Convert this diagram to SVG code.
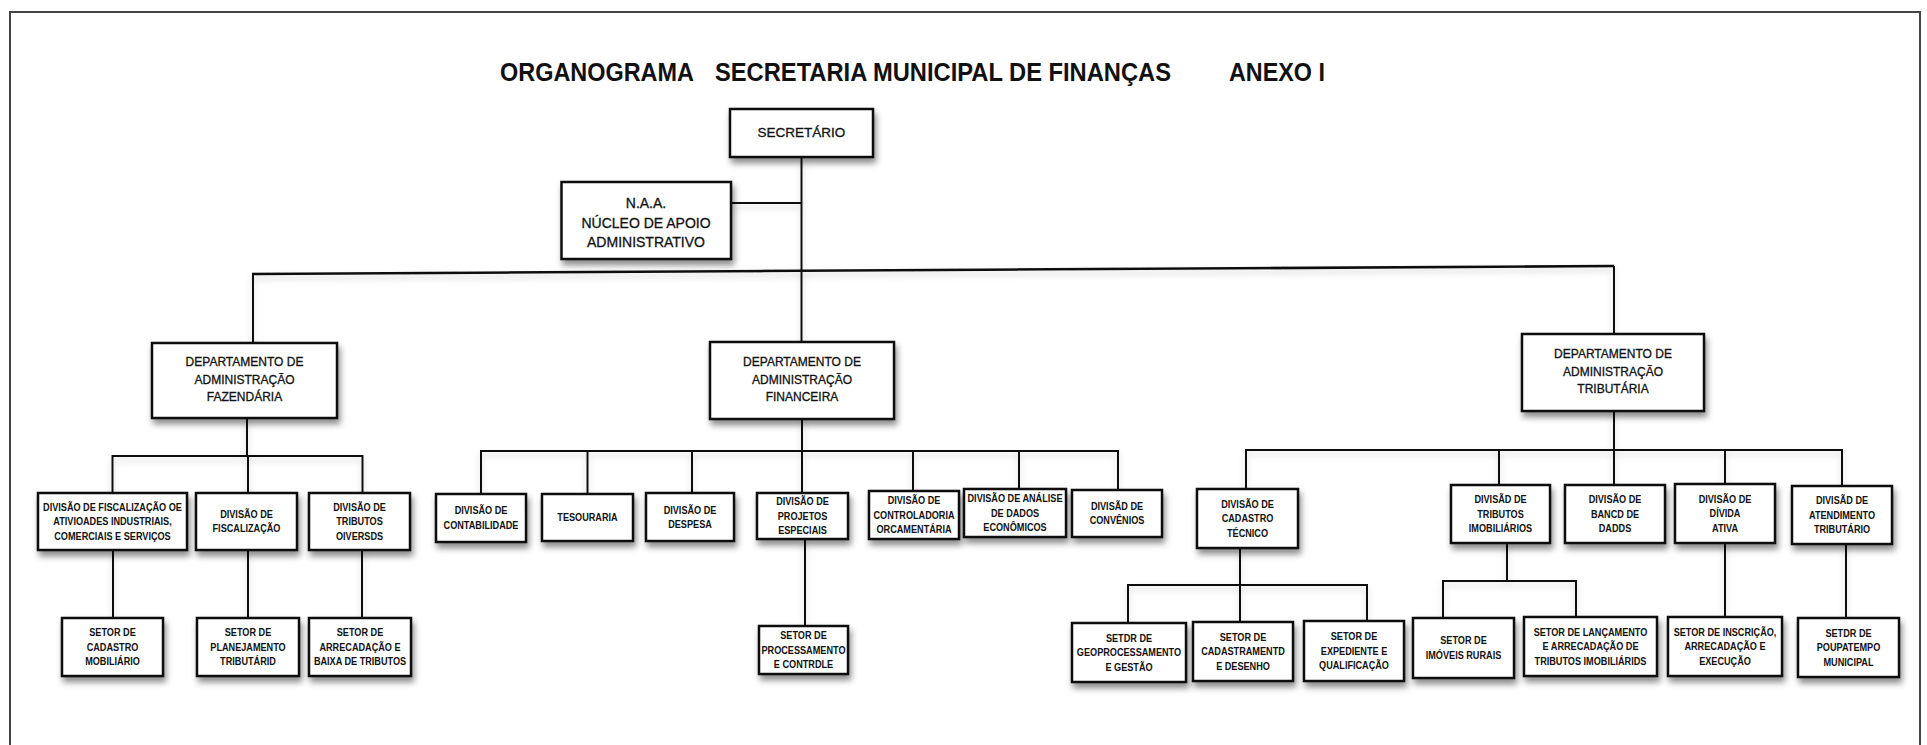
<svg xmlns="http://www.w3.org/2000/svg" width="1927" height="745" viewBox="0 0 1927 745">
<defs>
<filter id="sh" x="-15%" y="-15%" width="140%" height="160%">
<feDropShadow dx="2" dy="5" stdDeviation="3" flood-color="#000" flood-opacity="0.45"/>
</filter>
<filter id="lsh" x="-5%" y="-50%" width="110%" height="300%">
<feDropShadow dx="0" dy="4" stdDeviation="3" flood-color="#000" flood-opacity="0.18"/>
</filter>
</defs>
<style>
.box{fill:#fff;stroke:#111;stroke-width:2.5;filter:url(#sh)}
.t{font-family:"Liberation Sans",Arial,sans-serif;fill:#111;text-anchor:middle}
.d{font-size:10.5px;font-weight:bold}
.dep{font-size:12px;stroke:#111;stroke-width:0.3}
.big{font-size:14px;stroke:#111;stroke-width:0.3}
.title{font-family:"Liberation Sans",Arial,sans-serif;font-size:25px;font-weight:bold;fill:#111}
.ln{fill:none;stroke:#111;stroke-width:2}
.main{stroke-width:2.6}
</style>
<rect x="0" y="0" width="1927" height="745" fill="#fff"/>
<path d="M10 745 V12 H1920 V745" fill="none" stroke="#444" stroke-width="2"/>
<g id="title">
<text class="title" x="500" y="81" textLength="194" lengthAdjust="spacingAndGlyphs">ORGANOGRAMA</text>
<text class="title" x="715" y="81" textLength="456" lengthAdjust="spacingAndGlyphs">SECRETARIA MUNICIPAL DE FINANÇAS</text>
<text class="title" x="1229" y="81" textLength="96" lengthAdjust="spacingAndGlyphs">ANEXO I</text>
</g>
<g id="connectors" filter="url(#lsh)">
<path class="ln" d="M801.5 157 V342"/>
<path class="ln" d="M731 203 H801.5"/>
<path class="ln main" d="M252 274 L1614 266"/>
<path class="ln" d="M253 274 V343"/>
<path class="ln" d="M1614 266 V334"/>
<path class="ln" d="M247 418 V456 M112.5 493 V456 H362.5 V493 M248 456 V493"/>
<path class="ln" d="M113 550 V618 M248 550 V618 M362 550 V618"/>
<path class="ln" d="M802 419 V451 M481 494 V451 H1118 V490 M587.5 451 V494 M692 451 V493 M802 451 V493 M913 451 V491 M1019 451 V489"/>
<path class="ln" d="M805 539 V626"/>
<path class="ln" d="M1614 411 V450 M1246 489 V450 H1842 V486 M1499 450 V485 M1614 450 V485 M1725 450 V484"/>
<path class="ln" d="M1240 548 V585 M1128 623 V585 H1367 V621 M1240 585 V622"/>
<path class="ln" d="M1507 543 V581 M1443 618 V581 H1576 V617"/>
<path class="ln" d="M1725 543 V617"/>
<path class="ln" d="M1846 544 V618"/>
</g>
<g id="secretario">
<rect class="box" x="730" y="109" width="143" height="48"/>
<text class="t big" x="801.5" y="137" style="font-size:13.5px">SECRETÁRIO</text>
</g>
<g id="naa">
<rect class="box" x="561.5" y="182" width="169.5" height="77"/>
<text class="t big"><tspan x="646" y="208">N.A.A.</tspan><tspan x="646" y="227.5">NÚCLEO DE APOIO</tspan><tspan x="646" y="247">ADMINISTRATIVO</tspan></text>
</g>
<g id="dep-fazendaria">
<rect class="box" x="152" y="343" width="185" height="75"/>
<text class="t dep"><tspan x="244.5" y="366">DEPARTAMENTO DE</tspan><tspan x="244.5" y="383.5">ADMINISTRAÇÃO</tspan><tspan x="244.5" y="401">FAZENDÁRIA</tspan></text>
</g>
<g id="dep-financeira">
<rect class="box" x="710" y="342" width="184" height="77"/>
<text class="t dep"><tspan x="802" y="366.3">DEPARTAMENTO DE</tspan><tspan x="802" y="383.8">ADMINISTRAÇÃO</tspan><tspan x="802" y="401.3">FINANCEIRA</tspan></text>
</g>
<g id="dep-tributaria">
<rect class="box" x="1522" y="334" width="182" height="77"/>
<text class="t dep"><tspan x="1613" y="358.3">DEPARTAMENTO DE</tspan><tspan x="1613" y="375.8">ADMINISTRAÇÃO</tspan><tspan x="1613" y="393.3">TRIBUTÁRIA</tspan></text>
</g>
<g id="div-fisc-atividades">
<rect class="box" x="38" y="493" width="149" height="57"/>
<text class="t d" transform="translate(112.5 0) scale(0.87 1)"><tspan x="0" y="511">DIVISÃO DE FISCALIZAÇÃO OE</tspan><tspan x="0" y="525.5">ATIVIOADES INDUSTRIAIS,</tspan><tspan x="0" y="540">COMERCIAIS E SERVIÇOS</tspan></text>
</g>
<g id="div-fiscalizacao">
<rect class="box" x="196" y="493" width="101" height="57"/>
<text class="t d" transform="translate(246.5 0) scale(0.87 1)"><tspan x="0" y="518">DIVISÃO DE</tspan><tspan x="0" y="532.5">FISCALIZAÇÃO</tspan></text>
</g>
<g id="div-tributos-diversos">
<rect class="box" x="309" y="493" width="101" height="57"/>
<text class="t d" transform="translate(359.5 0) scale(0.87 1)"><tspan x="0" y="511">DIVISÃO DE</tspan><tspan x="0" y="525.5">TRIBUTOS</tspan><tspan x="0" y="540">OIVERSDS</tspan></text>
</g>
<g id="setor-cadastro-mobiliario">
<rect class="box" x="62" y="618" width="101" height="58"/>
<text class="t d" transform="translate(112.5 0) scale(0.87 1)"><tspan x="0" y="636.3">SETOR DE</tspan><tspan x="0" y="650.8">CADASTRO</tspan><tspan x="0" y="665.3">MOBILIÁRIO</tspan></text>
</g>
<g id="setor-planejamento">
<rect class="box" x="197" y="618" width="102" height="58"/>
<text class="t d" transform="translate(248 0) scale(0.87 1)"><tspan x="0" y="636.3">SETOR DE</tspan><tspan x="0" y="650.8">PLANEJAMENTO</tspan><tspan x="0" y="665.3">TRIBUTÁRID</tspan></text>
</g>
<g id="setor-arrecadacao-baixa">
<rect class="box" x="309" y="618" width="102" height="58"/>
<text class="t d" transform="translate(360 0) scale(0.87 1)"><tspan x="0" y="636.3">SETOR DE</tspan><tspan x="0" y="650.8">ARRECADAÇÃO E</tspan><tspan x="0" y="665.3">BAIXA DE TRIBUTOS</tspan></text>
</g>
<g id="div-contabilidade">
<rect class="box" x="436" y="494" width="90" height="48"/>
<text class="t d" transform="translate(481 0) scale(0.87 1)"><tspan x="0" y="514.5">DIVISÃO DE</tspan><tspan x="0" y="529">CONTABILIDADE</tspan></text>
</g>
<g id="tesouraria">
<rect class="box" x="542" y="494" width="91" height="47"/>
<text class="t d" transform="translate(587.5 0) scale(0.87 1)"><tspan x="0" y="521.3">TESOURARIA</tspan></text>
</g>
<g id="div-despesa">
<rect class="box" x="646" y="493" width="88" height="48"/>
<text class="t d" transform="translate(690 0) scale(0.87 1)"><tspan x="0" y="513.5">DIVISÃO DE</tspan><tspan x="0" y="528">DESPESA</tspan></text>
</g>
<g id="div-projetos">
<rect class="box" x="757" y="493" width="91" height="46"/>
<text class="t d" transform="translate(802.5 0) scale(0.87 1)"><tspan x="0" y="505.3">DIVISÃO DE</tspan><tspan x="0" y="519.8">PROJETOS</tspan><tspan x="0" y="534.3">ESPECIAIS</tspan></text>
</g>
<g id="div-controladoria">
<rect class="box" x="869" y="491" width="90" height="48"/>
<text class="t d" transform="translate(914 0) scale(0.87 1)"><tspan x="0" y="504.3">DIVISÃO DE</tspan><tspan x="0" y="518.8">CONTROLADORIA</tspan><tspan x="0" y="533.3">ORCAMENTÁRIA</tspan></text>
</g>
<g id="div-analise">
<rect class="box" x="964" y="489" width="102" height="48"/>
<text class="t d" transform="translate(1015 0) scale(0.87 1)"><tspan x="0" y="502.3">DIVISÃO DE ANÁLISE</tspan><tspan x="0" y="516.8">DE DADOS</tspan><tspan x="0" y="531.3">ECONÔMICOS</tspan></text>
</g>
<g id="div-convenios">
<rect class="box" x="1072" y="490" width="90" height="47"/>
<text class="t d" transform="translate(1117 0) scale(0.87 1)"><tspan x="0" y="510">DIVISÃD DE</tspan><tspan x="0" y="524.5">CONVÊNIOS</tspan></text>
</g>
<g id="setor-processamento">
<rect class="box" x="759" y="626" width="89" height="48"/>
<text class="t d" transform="translate(803.5 0) scale(0.87 1)"><tspan x="0" y="639.3">SETOR DE</tspan><tspan x="0" y="653.8">PROCESSAMENTO</tspan><tspan x="0" y="668.3">E CONTRDLE</tspan></text>
</g>
<g id="div-cadastro-tecnico">
<rect class="box" x="1197" y="489" width="101" height="59"/>
<text class="t d" transform="translate(1247.5 0) scale(0.87 1)"><tspan x="0" y="507.8">DIVISÃO DE</tspan><tspan x="0" y="522.3">CADASTRO</tspan><tspan x="0" y="536.8">TÉCNICO</tspan></text>
</g>
<g id="div-tributos-imobiliarios">
<rect class="box" x="1451" y="485" width="99" height="58"/>
<text class="t d" transform="translate(1500.5 0) scale(0.87 1)"><tspan x="0" y="503.3">DIVISÃD DE</tspan><tspan x="0" y="517.8">TRIBUTOS</tspan><tspan x="0" y="532.3">IMOBILIÁRIOS</tspan></text>
</g>
<g id="div-banco-dados">
<rect class="box" x="1565" y="485" width="100" height="58"/>
<text class="t d" transform="translate(1615 0) scale(0.87 1)"><tspan x="0" y="503.3">DIVISÃO DE</tspan><tspan x="0" y="517.8">BANCD DE</tspan><tspan x="0" y="532.3">DADDS</tspan></text>
</g>
<g id="div-divida-ativa">
<rect class="box" x="1675" y="484" width="100" height="59"/>
<text class="t d" transform="translate(1725 0) scale(0.87 1)"><tspan x="0" y="502.8">DIVISÃO DE</tspan><tspan x="0" y="517.3">DÍVIDA</tspan><tspan x="0" y="531.8">ATIVA</tspan></text>
</g>
<g id="div-atendimento">
<rect class="box" x="1792" y="486" width="100" height="58"/>
<text class="t d" transform="translate(1842 0) scale(0.87 1)"><tspan x="0" y="504.3">DIVISÃD DE</tspan><tspan x="0" y="518.8">ATENDIMENTO</tspan><tspan x="0" y="533.3">TRIBUTÁRIO</tspan></text>
</g>
<g id="setor-geoprocessamento">
<rect class="box" x="1072" y="623" width="114" height="59"/>
<text class="t d" transform="translate(1129 0) scale(0.87 1)"><tspan x="0" y="641.8">SETDR DE</tspan><tspan x="0" y="656.3">GEOPROCESSAMENTO</tspan><tspan x="0" y="670.8">E GESTÃO</tspan></text>
</g>
<g id="setor-cadastramento">
<rect class="box" x="1193" y="622" width="100" height="59"/>
<text class="t d" transform="translate(1243 0) scale(0.87 1)"><tspan x="0" y="640.8">SETOR DE</tspan><tspan x="0" y="655.3">CADASTRAMENTD</tspan><tspan x="0" y="669.8">E DESENHO</tspan></text>
</g>
<g id="setor-expediente">
<rect class="box" x="1304" y="621" width="100" height="60"/>
<text class="t d" transform="translate(1354 0) scale(0.87 1)"><tspan x="0" y="640.3">SETOR DE</tspan><tspan x="0" y="654.8">EXPEDIENTE E</tspan><tspan x="0" y="669.3">QUALIFICAÇÃO</tspan></text>
</g>
<g id="setor-imoveis-rurais">
<rect class="box" x="1413" y="618" width="101" height="60"/>
<text class="t d" transform="translate(1463.5 0) scale(0.87 1)"><tspan x="0" y="644.5">SETOR DE</tspan><tspan x="0" y="659">IMÓVEIS RURAIS</tspan></text>
</g>
<g id="setor-lancamento">
<rect class="box" x="1524" y="617" width="133" height="59"/>
<text class="t d" transform="translate(1590.5 0) scale(0.87 1)"><tspan x="0" y="635.8">SETOR DE LANÇAMENTO</tspan><tspan x="0" y="650.3">E ARRECADAÇÃO DE</tspan><tspan x="0" y="664.8">TRIBUTOS IMOBILIÁRIDS</tspan></text>
</g>
<g id="setor-inscricao">
<rect class="box" x="1668" y="617" width="114" height="59"/>
<text class="t d" transform="translate(1725 0) scale(0.87 1)"><tspan x="0" y="635.8">SETOR DE INSCRIÇÃO,</tspan><tspan x="0" y="650.3">ARRECADAÇÃO E</tspan><tspan x="0" y="664.8">EXECUÇÃO</tspan></text>
</g>
<g id="setor-poupatempo">
<rect class="box" x="1798" y="618" width="101" height="59"/>
<text class="t d" transform="translate(1848.5 0) scale(0.87 1)"><tspan x="0" y="636.8">SETDR DE</tspan><tspan x="0" y="651.3">POUPATEMPO</tspan><tspan x="0" y="665.8">MUNICIPAL</tspan></text>
</g>
</svg>
